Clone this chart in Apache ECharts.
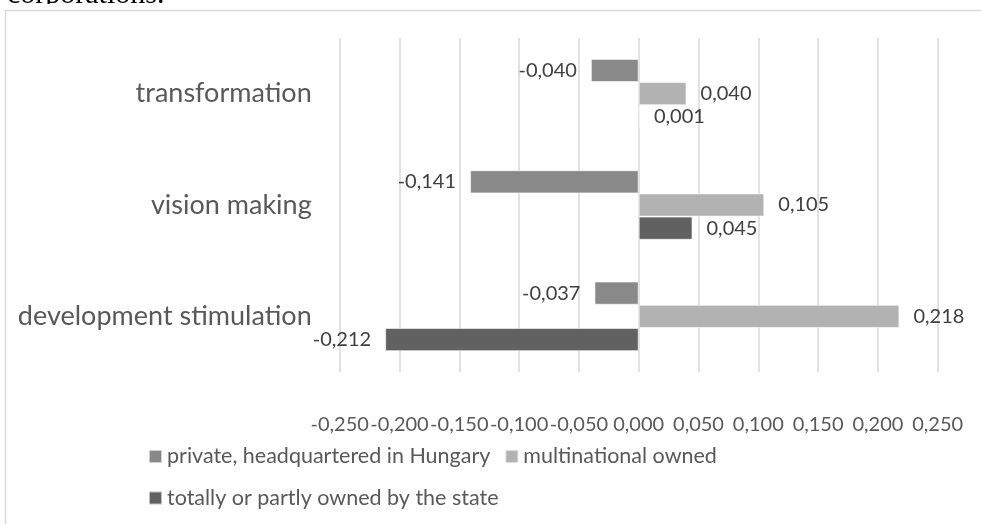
<!DOCTYPE html>
<html>
<head>
<meta charset="utf-8">
<script src="https://cdn.jsdelivr.net/npm/echarts@6/dist/echarts.min.js"></script>
<style>html,body{margin:0;padding:0;background:#fff;}#c{width:981px;height:524px;}</style>
</head>
<body>
<div id="c"></div>
<script>
const categories = ['transformation', 'vision making', 'development stimulation'];
const seriesNames = ['private, headquartered in Hungary', 'multinational owned', 'totally or partly owned by the state'];
const privateHQ = [-0.040, -0.141, -0.037];
const multinational = [0.040, 0.105, 0.218];
const stateOwned = [0.001, 0.045, -0.212];
const seriesColors = ['#898989', '#b2b2b2', '#616161'];
const axisMin = -0.25, axisMax = 0.25, axisStep = 0.05;

const fmt = v => { if (Math.abs(v) < 1e-9) v = 0; return v.toFixed(3).replace('.', ','); };
const FONT = 'Lato';

function mkSeries(name, values, color) {
  return {
    name: name, type: 'bar',
    barGap: '0%', barCategoryGap: '37.5%',
    itemStyle: { color: color, borderColor: 'rgba(255,255,255,0.6)', borderWidth: 1 },
    data: values.map(v => ({
      value: v,
      label: { position: v < 0 ? 'left' : 'right' }
    })),
    label: {
      show: true, distance: 14, color: '#404040', fontSize: 20, fontFamily: FONT,
      formatter: p => fmt(p.value)
    },
    emphasis: { disabled: true }
  };
}

const chart = echarts.init(document.getElementById('c'), null, { renderer: 'canvas' });
chart.setOption({
  animation: false,
  backgroundColor: '#fff',
  graphic: [
    { type: 'text', z: -30, style: { x: 7, y: 10.5, text: 'corporations.', font: '30px "Liberation Serif"', fill: '#000', verticalAlign: 'bottom' } },
    { type: 'rect', z: -20, shape: { x: 0, y: 4, width: 1100, height: 700 }, style: { fill: '#fff' } },
    { type: 'rect', z: -10, shape: { x: 5.5, y: 10.5, width: 1100, height: 700 },
      style: { fill: '#fff', stroke: '#d9d9d9', lineWidth: 1.5 } }
  ],
  grid: { left: 339.7, right: 43.3, top: 38, bottom: 152, containLabel: false },
  legend: [
    { data: [seriesNames[0], seriesNames[1]], left: 143, top: 440.5, itemWidth: 13, itemHeight: 13,
      itemGap: 14, icon: 'rect', textStyle: { color: '#595959', fontSize: 21.5, fontFamily: FONT } },
    { data: [seriesNames[2]], left: 143, top: 482, itemWidth: 13, itemHeight: 13,
      icon: 'rect', textStyle: { color: '#595959', fontSize: 21.5, fontFamily: FONT } }
  ],
  xAxis: {
    type: 'value', min: axisMin, max: axisMax, interval: axisStep,
    axisLine: { show: false }, axisTick: { show: false },
    splitLine: { show: true, lineStyle: { color: '#d9d9d9', width: 1.5 } },
    axisLabel: { color: '#595959', fontSize: 20, fontFamily: FONT, margin: 43, hideOverlap: false,
      formatter: v => fmt(v) }
  },
  yAxis: {
    type: 'category', inverse: true, data: categories,
    axisLine: { show: false }, axisTick: { show: false },
    axisLabel: { color: '#595959', fontSize: 27, fontFamily: FONT, margin: 28 }
  },
  series: [
    mkSeries(seriesNames[0], privateHQ, seriesColors[0]),
    mkSeries(seriesNames[1], multinational, seriesColors[1]),
    mkSeries(seriesNames[2], stateOwned, seriesColors[2])
  ]
});
</script>
</body>
</html>
